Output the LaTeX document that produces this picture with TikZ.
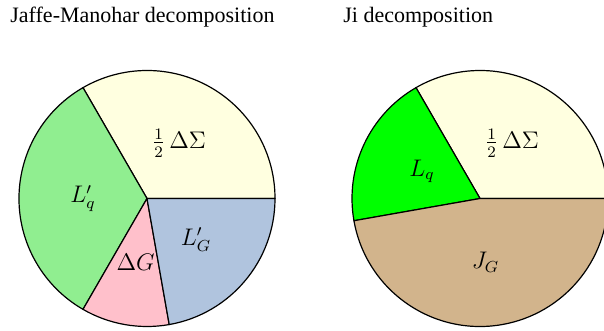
\documentclass[tikz,border=0pt]{standalone}
\usepackage{fontspec}
\setmainfont{Liberation Serif}
\usepackage{amsmath}
\usepackage{xcolor}
\usepackage{tikz}
\definecolor{spinYellow}{HTML}{FFFFE0}
\definecolor{orbGreen}{HTML}{90EE90}
\definecolor{gluPink}{HTML}{FFC0CB}
\definecolor{gluBlue}{HTML}{B0C4DE}
\definecolor{orbLime}{HTML}{00FF00}
\definecolor{gluTan}{HTML}{D2B48C}
\usetikzlibrary{calc}

\begin{document}
\begin{tikzpicture}[x=0.5pt, y=0.5pt,
    slice/.style={draw=black, line width=0.6pt, line join=round},
    piece/.style={font=\fontsize{12}{14}\selectfont},
    heading/.style={anchor=base west, inner sep=0pt, font=\fontsize{11}{13}\selectfont}]
    \useasboundingbox (0,0) rectangle (604,331);
    \clip (0,0) rectangle (604,331);
    \coordinate (JM) at (147,132.5);
    \coordinate (Ji) at (480,132.5);
    % Jaffe-Manohar
    \filldraw[slice, fill=spinYellow] (JM) -- ++(0:128) arc[start angle=0, end angle=120, radius=128] -- cycle;
    \filldraw[slice, fill=orbGreen] (JM) -- ++(120:128) arc[start angle=120, end angle=240, radius=128] -- cycle;
    \filldraw[slice, fill=gluPink] (JM) -- ++(240:128) arc[start angle=240, end angle=280, radius=128] -- cycle;
    \filldraw[slice, fill=gluBlue] (JM) -- ++(280:128) arc[start angle=280, end angle=360, radius=128] -- cycle;
    \node[piece] (jmSigma) at ($(JM)+(60:64)$) {$\frac{1}{2}\,\Delta\Sigma$};
    \node[piece] (jmLq) at ($(JM)+(180:64)$) {$L'_q$};
    \node[piece] (jmDG) at ($(JM)+(260:65)$) {$\Delta G$};
    \node[piece] (jmLG) at ($(JM)+(320:64)$) {$L'_G$};
    % Ji
    \filldraw[slice, fill=spinYellow] (Ji) -- ++(0:128) arc[start angle=0, end angle=120, radius=128] -- cycle;
    \filldraw[slice, fill=orbLime] (Ji) -- ++(120:128) arc[start angle=120, end angle=190, radius=128] -- cycle;
    \filldraw[slice, fill=gluTan] (Ji) -- ++(190:128) arc[start angle=190, end angle=360, radius=128] -- cycle;
    \node[piece] (jiSigma) at ($(Ji)+(60:64)$) {$\frac{1}{2}\,\Delta\Sigma$};
    \node[piece] (jiLq) at ($(Ji)+(155:64)$) {$L_q$};
    \node[piece] (jiJG) at ($(Ji)+(275:64)$) {$J_G$};
    \node[heading] (jmTitle) at (10,308) {Jaffe-Manohar decomposition};
    \node[heading] (jiTitle) at (343,308) {Ji decomposition};
  \end{tikzpicture}
\end{document}
